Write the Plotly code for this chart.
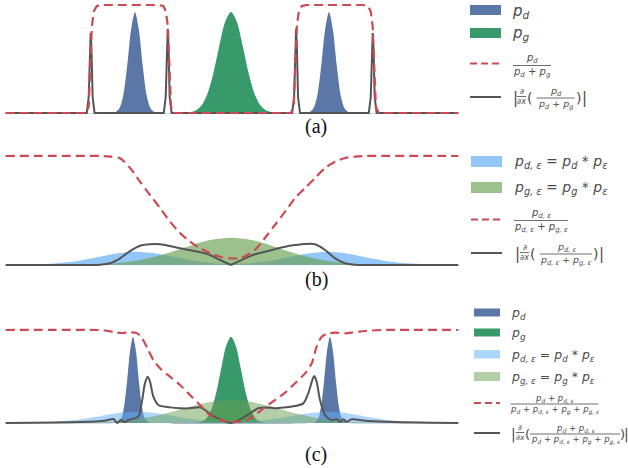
import plotly.graph_objects as go

W, H = 628, 468

# ---------------- data ----------------
# Panel (a)
a_pd_x = [-11.5, -6.3, -6.1, -5.9, -5.7, -5.5, -5.3, -5.1, -4.9, -4.7, -4.5, -4.3, -4.1, -3.9, -3.7, -3.5,
          3.6, 3.8, 4.0, 4.2, 4.4, 4.6, 4.8, 5.0, 5.2, 5.4, 5.6, 5.8, 6.0, 6.2, 6.4, 11.5]
a_pd_y = [0, 0, 0.001, 0.007, 0.041, 0.16, 0.43, 0.77, 0.935, 0.77, 0.43, 0.16, 0.041, 0.007, 0.001, 0,
          0, 0.001, 0.007, 0.041, 0.16, 0.43, 0.77, 0.935, 0.77, 0.43, 0.16, 0.041, 0.007, 0.001, 0, 0]
a_pg_x = [-11.5, -2.6, -2.2, -1.8, -1.5, -1.2, -0.9, -0.6, -0.3, 0, 0.3, 0.6, 0.9, 1.2, 1.5, 1.8, 2.2, 2.6, 11.5]
a_pg_y = [0, 0, 0.004, 0.023, 0.071, 0.179, 0.369, 0.62, 0.843, 0.935, 0.843, 0.62, 0.369, 0.179, 0.071, 0.023, 0.004, 0, 0]
a_ratio_x = [-11.5, -7.40, -7.26, -7.18, -7.10, -7.00, -6.85, -6.6, -3.7, -3.45, -3.32, -3.22, -3.14, -3.06, -2.92,
             3.06, 3.20, 3.28, 3.36, 3.46, 3.61, 3.86, 6.75, 7.00, 7.13, 7.23, 7.31, 7.39, 7.53, 11.6]
a_ratio_y = [0, 0, 0.06, 0.4, 0.8, 0.94, 0.99, 1.0, 1.0, 0.99, 0.94, 0.8, 0.4, 0.06, 0,
             0, 0.06, 0.4, 0.8, 0.94, 0.99, 1.0, 1.0, 0.99, 0.94, 0.8, 0.4, 0.06, 0, 0]
a_grad_x = [-11.5, -7.36, -7.26, -7.20, -7.16, -7.12, -7.06, -6.96, -3.43, -3.33, -3.27, -3.23, -3.19, -3.13, -3.03,
            3.12, 3.22, 3.28, 3.32, 3.36, 3.42, 3.52, 7.03, 7.13, 7.19, 7.23, 7.27, 7.33, 7.43, 11.6]
a_grad_y = [0, 0, 0.15, 0.6, 0.74, 0.6, 0.15, 0, 0, 0.15, 0.63, 0.78, 0.63, 0.15, 0,
            0, 0.15, 0.63, 0.78, 0.63, 0.15, 0, 0, 0.15, 0.6, 0.74, 0.6, 0.15, 0, 0]

# Panel (b)
b_pde_x = [-11.5, -10, -9, -8, -7, -6, -5, -4, -3, -2, -1, 0, 1, 2, 3, 4, 5, 6, 7, 8, 9, 10, 11.5]
b_pde_y = [0.0005, 0.005, 0.014, 0.032, 0.064, 0.101, 0.122, 0.110, 0.078, 0.043, 0.019, 0.011,
           0.018, 0.040, 0.074, 0.107, 0.122, 0.104, 0.066, 0.034, 0.015, 0.005, 0.0006]
b_pge_x = [-9, -8, -7, -6, -5, -4, -3, -2, -1, 0, 1, 2, 3, 4, 5, 6, 7, 8, 9]
b_pge_y = [0, 0.0015, 0.005, 0.014, 0.034, 0.070, 0.122, 0.182, 0.231, 0.25,
           0.231, 0.182, 0.122, 0.070, 0.034, 0.014, 0.005, 0.0015, 0]
b_ratio_x = [-11.5, -6.6, -6.17, -5.66, -5.15, -4.64, -4.13, -3.62, -3.11, -2.60, -2.09, -1.58, -1.07, -0.56, 0,
             0.5, 1.22, 1.73, 2.24, 2.76, 3.27, 3.78, 4.29, 4.80, 5.31, 5.82, 6.33, 6.8, 11.6]
b_ratio_y = [1, 1, 0.995, 0.98, 0.89, 0.764, 0.642, 0.523, 0.397, 0.294, 0.214, 0.156, 0.110, 0.076, 0.061,
             0.065, 0.138, 0.248, 0.367, 0.489, 0.615, 0.706, 0.798, 0.89, 0.948, 0.982, 0.994, 1, 1]
b_grad_x = [-11.5, -7.2, -6.68, -6.17, -5.66, -5.15, -4.64, -4.13, -3.62, -3.11, -2.60, -2.09, -1.58, -1.07, -0.56, 0,
            0.71, 1.22, 1.73, 2.24, 2.76, 3.27, 3.78, 4.29, 4.80, 5.31, 5.82, 6.33, 6.9, 11.6]
b_grad_y = [0, 0, 0.003, 0.016, 0.061, 0.128, 0.177, 0.19, 0.19, 0.174, 0.153, 0.135, 0.117, 0.092, 0.046, 0,
            0.061, 0.098, 0.122, 0.144, 0.168, 0.183, 0.193, 0.19, 0.138, 0.061, 0.016, 0.002, 0, 0]

# Panel (c)
c_pd_x = [-11.5, -6.0, -5.8, -5.6, -5.45, -5.3, -5.15, -5.0, -4.85, -4.7, -4.55, -4.4, -4.2, -4.0,
          4.05, 4.25, 4.45, 4.6, 4.75, 4.9, 5.05, 5.2, 5.35, 5.5, 5.65, 5.85, 6.05, 11.5]
c_pd_y = [0, 0, 0.006, 0.052, 0.184, 0.452, 0.775, 0.928, 0.775, 0.452, 0.184, 0.052, 0.006, 0,
          0, 0.006, 0.052, 0.184, 0.452, 0.775, 0.928, 0.775, 0.452, 0.184, 0.052, 0.006, 0, 0]
c_pg_x = [-11.5, -2.2, -1.8, -1.5, -1.25, -1.0, -0.75, -0.5, -0.25, 0, 0.25, 0.5, 0.75, 1.0, 1.25, 1.5, 1.8, 2.2, 11.5]
c_pg_y = [0, 0, 0.002, 0.015, 0.052, 0.146, 0.328, 0.585, 0.827, 0.928, 0.827, 0.585, 0.328, 0.146, 0.052, 0.015, 0.002, 0, 0]
c_pde_x = [-11.5, -10, -9, -8, -7, -6, -5, -4, -3, -2, -1, 0, 1, 2, 3, 4, 5, 6, 7, 8, 9, 10, 11.5]
c_pde_y = [0.0005, 0.005, 0.014, 0.031, 0.062, 0.099, 0.12, 0.109, 0.077, 0.042, 0.019, 0.011,
           0.018, 0.039, 0.073, 0.105, 0.12, 0.103, 0.065, 0.033, 0.015, 0.005, 0.0006]
c_pge_x = [-9, -8, -7, -6, -5, -4, -3, -2, -1, 0, 1, 2, 3, 4, 5, 6, 7, 8, 9]
c_pge_y = [0, 0.0015, 0.005, 0.014, 0.034, 0.069, 0.12, 0.18, 0.228, 0.247,
           0.228, 0.18, 0.12, 0.069, 0.034, 0.014, 0.005, 0.0015, 0]
c_ratio_x = [-11.5, -6.8, -6.43, -5.92, -5.56, -5.15, -4.85, -4.64, -4.48, -4.22, -3.96, -3.62, -3.11, -2.60,
             -2.09, -1.58, -1.07, -0.56, -0.05, 0.71, 1.22, 1.73, 2.24, 2.76, 3.27, 3.78, 4.12, 4.37, 4.63,
             4.88, 5.31, 5.82, 6.16, 6.84, 7.69, 11.6]
c_ratio_y = [1.0, 1.0, 0.995, 0.975, 0.968, 0.975, 0.97, 0.94, 0.892, 0.785, 0.677, 0.588, 0.498, 0.409,
             0.30, 0.194, 0.086, 0.032, 0.014, 0.022, 0.086, 0.168, 0.247, 0.326, 0.427, 0.534, 0.642, 0.821, 0.928,
             0.957, 0.971, 0.964, 0.971, 0.989, 1.0, 1.0]
c_grad_x = [-11.5, -7.70, -6.43, -6.0, -5.80, -5.63, -5.41, -5.24, -4.73, -4.56, -4.39, -4.25, -4.13, -3.96, -3.71,
            -3.11, -2.60, -2.09, -1.58, -1.33, -0.98, -0.56, 0, 0.46, 0.97, 1.39, 1.73, 2.24, 2.76, 3.27, 3.69,
            3.94, 4.15, 4.25, 4.37, 4.54, 4.80, 5.14, 5.40, 5.56, 5.73, 5.90, 6.16, 6.84, 7.86, 11.6]
c_grad_y = [0, 0.01, 0.025, 0.043, 0, 0.032, 0.01, 0.032, 0.068, 0.211, 0.426, 0.498, 0.444, 0.283, 0.194,
            0.168, 0.158, 0.158, 0.168, 0.14, 0.086, 0.04, 0, 0.04, 0.104, 0.158, 0.168, 0.158, 0.168, 0.183, 0.211,
            0.319, 0.462, 0.505, 0.444, 0.247, 0.086, 0.032, 0.04, 0.014, 0.04, 0.014, 0.04, 0.025, 0.014, 0]

panel_labels = ["(a)", "(b)", "(c)"]

# ---------------- styles ----------------
DARK_BLUE = "#5a77a8"
DARK_GREEN = "#38996a"
LB_B = "rgba(100,175,245,0.7)"
LG_B = "rgba(105,160,80,0.65)"
LB_C = "rgba(100,175,245,0.52)"
LG_C = "rgba(105,160,80,0.5)"
RED = "#cc4b52"
GRAY = "#555555"
TXT = "#4a4a4a"
FONT = "DejaVu Sans"
RDASH = "9px,5px"

CX, UX = 231, 19.6          # pixel of x=0, pixels per x unit
X_DOM = (0, 465)
PANELS = [  # baseline px, px per y unit, domain top px, domain bottom px
    dict(base=113, unit=108, top=0, bottom=125),
    dict(base=265, unit=109, top=138, bottom=276),
    dict(base=423, unit=93, top=298, bottom=436),
]

fig = go.Figure()


def area(x, y, color, ax):
    fig.add_trace(go.Scatter(x=x, y=y, mode="lines", fill="tozeroy", fillcolor=color,
                             line=dict(width=0, shape="spline", smoothing=0.8),
                             xaxis="x" + ax, yaxis="y" + ax, hoverinfo="skip", showlegend=False))


def curve(x, y, color, width, ax, dash=None, shape="spline"):
    fig.add_trace(go.Scatter(x=x, y=y, mode="lines",
                             line=dict(width=width, color=color, dash=dash, shape=shape, smoothing=0.8),
                             xaxis="x" + ax, yaxis="y" + ax, hoverinfo="skip", showlegend=False))


# panel (a)
area(a_pd_x, a_pd_y, DARK_BLUE, "")
area(a_pg_x, a_pg_y, DARK_GREEN, "")
curve(a_grad_x, a_grad_y, GRAY, 2, "", shape="linear")
curve(a_ratio_x, a_ratio_y, RED, 2.2, "", dash=RDASH, shape="linear")

# panel (b)
area(b_pde_x, b_pde_y, LB_B, "2")
area(b_pge_x, b_pge_y, LG_B, "2")
k = b_grad_x.index(0)
curve(b_grad_x[:k + 1], b_grad_y[:k + 1], GRAY, 2, "2")
curve(b_grad_x[k:], b_grad_y[k:], GRAY, 2, "2")
curve(b_ratio_x, b_ratio_y, RED, 2.2, "2", dash=RDASH)

# panel (c)
area(c_pd_x, c_pd_y, DARK_BLUE, "3")
area(c_pg_x, c_pg_y, DARK_GREEN, "3")
area(c_pde_x, c_pde_y, LB_C, "3")
area(c_pge_x, c_pge_y, LG_C, "3")
curve(c_grad_x, c_grad_y, GRAY, 2, "3")
curve(c_ratio_x, c_ratio_y, RED, 2.2, "3", dash=RDASH)

layout = dict(width=W, height=H, margin=dict(l=0, r=0, t=0, b=0),
              paper_bgcolor="white", plot_bgcolor="rgba(0,0,0,0)", showlegend=False)
xr = [(X_DOM[0] - CX) / UX, (X_DOM[1] - CX) / UX]
for i, p in enumerate(PANELS):
    sfx = "" if i == 0 else str(i + 1)
    layout["xaxis" + sfx] = dict(domain=[X_DOM[0] / W, X_DOM[1] / W], range=xr, visible=False,
                                 anchor="y" + sfx, fixedrange=True)
    layout["yaxis" + sfx] = dict(domain=[1 - p["bottom"] / H, 1 - p["top"] / H],
                                 range=[(p["base"] - p["bottom"]) / p["unit"], (p["base"] - p["top"]) / p["unit"]],
                                 visible=False, anchor="x" + sfx, fixedrange=True)

annotations = []
shapes = []


def label(x, y, s, size, anchor="left", family=FONT, color=TXT):
    annotations.append(dict(x=x / W, y=1 - y / H, xref="paper", yref="paper", text=s, showarrow=False,
                            xanchor=anchor, yanchor="middle", borderpad=0,
                            font=dict(family=family, size=size, color=color)))


def seg(x0, x1, y, color, width, dash=None):
    shapes.append(dict(type="line", xref="paper", yref="paper", x0=x0 / W, x1=x1 / W,
                       y0=1 - y / H, y1=1 - y / H, line=dict(color=color, width=width, dash=dash)))


def patch(x0, x1, y0, y1, color):
    shapes.append(dict(type="rect", xref="paper", yref="paper", x0=x0 / W, x1=x1 / W,
                       y0=1 - y1 / H, y1=1 - y0 / H, fillcolor=color, line=dict(width=0)))


def frac(xc, y, w, num, den, size, gap):
    seg(xc - w / 2, xc + w / 2, y, TXT, 0.8)
    label(xc, y - gap, num, size, "center")
    label(xc, y + gap, den, size, "center")


def P(sub=None):
    return "<i>p</i>" if sub is None else f"<i>p</i><sub><i>{sub}</i></sub>"


def deriv(x_bar, y, d_x, xf, wf, num, den, fs, gap, x_close, x_bar2, bar_size, ds):
    label(x_bar, y, "|", bar_size, "center")
    frac(d_x, y - 1.5, ds + 1, "∂", "∂<i>x</i>", ds, ds * 0.68)
    label(d_x + 7.5, y, "(", bar_size - 1, "center")
    frac(xf, y, wf, num, den, fs, gap)
    label(x_close, y, ")", bar_size - 1, "center")
    label(x_bar2, y, "|", bar_size, "center")


# legend (a)
patch(470, 501, 5, 15, DARK_BLUE)
label(511, 11, P("d"), 15)
patch(470, 501, 28, 38, DARK_GREEN)
label(511, 34, P("g"), 15)
seg(470, 501, 63.5, RED, 2.2, "7px,4px")
frac(532, 65.5, 38, P("d"), P("d") + " + " + P("g"), 10, 7)
seg(470, 501, 97, GRAY, 2)
deriv(515, 98, 521.5, 555.5, 38, P("d"), P("d") + " + " + P("g"), 9.5, 6.5, 578, 584, 15, 8)

# legend (b)
patch(471, 502, 156, 167, LB_B)
label(513, 162, P("d, ε") + " = " + P("d") + " * " + P("ε"), 14)
patch(471, 502, 182, 193, LG_B)
label(513, 188, P("g, ε") + " = " + P("g") + " * " + P("ε"), 14)
seg(471, 502, 219.5, RED, 2.2, "7px,4px")
frac(541, 220.5, 54, P("d, ε"), P("d, ε") + " + " + P("g, ε"), 10, 7)
seg(471, 502, 253, GRAY, 2)
deriv(517, 254, 524.5, 566, 52, P("d, ε"), P("d, ε") + " + " + P("g, ε"), 9.5, 6.5, 595, 601, 15, 8)

# legend (c)
patch(474, 500, 308.5, 316.5, DARK_BLUE)
label(510, 313, P("d"), 12.5)
patch(474, 500, 328.5, 336.5, DARK_GREEN)
label(510, 333, P("g"), 12.5)
patch(474, 500, 350, 358.5, LB_C)
label(510, 355, P("d, ε") + " = " + P("d") + " * " + P("ε"), 12.5)
patch(474, 500, 372, 381, LG_C)
label(510, 377, P("g, ε") + " = " + P("g") + " * " + P("ε"), 12.5)
seg(474, 500, 403, RED, 2.2, "7px,4px")
frac(554.5, 404, 88, P("d") + " + " + P("d, ε"),
     P("d") + " + " + P("d, ε") + " + " + P("g") + " + " + P("g, ε"), 8.5, 6)
seg(474, 500, 433, GRAY, 2)
deriv(513, 434, 520, 575, 90, P("d") + " + " + P("d, ε"),
      P("d") + " + " + P("d, ε") + " + " + P("g") + " + " + P("g, ε"), 8.5, 6, 622, 626.5, 14, 7.5)

# panel labels
for lab, yc in zip(panel_labels, [127, 279, 454]):
    label(316, yc, lab, 20, "center", family="Liberation Serif", color="#111111")

layout["annotations"] = annotations
layout["shapes"] = shapes
fig.update_layout(**layout)
fig.write_html("out.html", config={"displayModeBar": False},
               post_script="document.body.style.margin='0';document.body.style.overflow='hidden';")
